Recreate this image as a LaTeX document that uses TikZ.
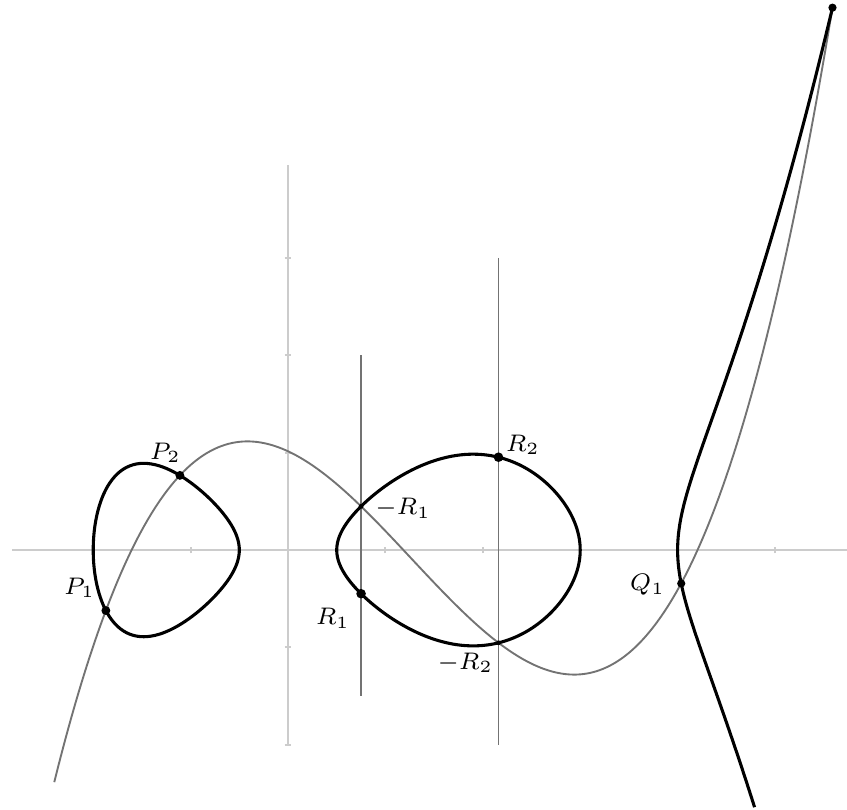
\documentclass[tikz,border=0pt]{standalone}
\usepackage{amsmath}
\usepackage{tikz}
\definecolor{axisgray}{gray}{0.80}
\definecolor{guidegray}{gray}{0.45}
\definecolor{chordgray}{gray}{0.45}

\begin{document}
\begin{tikzpicture}[
  font=\scriptsize,
  declare function={
    cub(\t)=0.126759*\t*\t*\t-0.479548*\t*\t-0.465562*\t+1.013836;
  },
  axis/.style={draw=axisgray,line width=0.6pt},
  guide/.style={draw=guidegray,line width=0.5pt},
  chord/.style={draw=chordgray,line width=0.55pt},
  curve/.style={draw=black,line width=0.9pt},
  bigdot/.style={fill=black},
  lbl/.style={inner sep=1pt}
]
  \useasboundingbox (-2.957,-2.669) rectangle (5.739,5.647);

  \coordinate (xmin) at (-2.83,0);
  \coordinate (xmax) at (5.74,0);
  \coordinate (ymin) at (0,-2);
  \coordinate (ymax) at (0,3.95);
  \draw[axis] (xmin) -- (xmax);
  \draw[axis] (ymin) -- (ymax);
  \draw[axis] (-2,-0.035) -- (-2,0.035) (-1,-0.035) -- (-1,0.035)
    (1,-0.035) -- (1,0.035) (2,-0.035) -- (2,0.035) (3,-0.035) -- (3,0.035)
    (4,-0.035) -- (4,0.035) (5,-0.035) -- (5,0.035)
    (-0.035,-2) -- (0.035,-2) (-0.035,-1) -- (0.035,-1) (-0.035,1) -- (0.035,1)
    (-0.035,2) -- (0.035,2) (-0.035,3) -- (0.035,3);

  \coordinate (P1) at (-1.87,-0.6214);
  \coordinate (P2) at (-1.11,0.7664);
  \coordinate (R1) at (0.75,-0.4484);
  \coordinate (mR1) at (0.75,0.4484);
  \coordinate (R2) at (2.161,0.9529);
  \coordinate (mR2) at (2.161,-0.9527);
  \coordinate (Q1) at (4.037,-0.343);
  \coordinate (Q2) at (5.59,5.5682);
  \coordinate (R1top) at (0.75,2);
  \coordinate (R1bot) at (0.75,-1.5);
  \coordinate (R2top) at (2.161,3);
  \coordinate (R2bot) at (2.161,-2);

  \draw[guide] (R1top) -- (R1bot);
  \draw[guide] (R2top) -- (R2bot);

  \draw[chord] plot[domain=-2.40:5.59,samples=220,smooth] (\x,{cub(\x)});

  \draw[curve] plot[domain=0:360,samples=121,smooth]
    ({-1.25-0.75*cos(\x)},{0.75*sin(\x)*sqrt(0.032*(1.75+0.75*cos(\x))*(4.25+0.75*cos(\x))*(5.25+0.75*cos(\x)))}) -- cycle;
  \draw[curve] plot[domain=0:360,samples=121,smooth]
    ({1.75-1.25*cos(\x)},{1.25*sin(\x)*sqrt(0.032*(3.75-1.25*cos(\x))*(2.25-1.25*cos(\x))*(2.25+1.25*cos(\x)))}) -- cycle;
  \draw[curve] plot[domain=-0.88882:1.26095,samples=120,smooth]
    ({4+\x*\x},{\x*sqrt(0.032*(6+\x*\x)*(4.5+\x*\x)*(3.5+\x*\x)*(1+\x*\x))});

  \fill[bigdot] (P1) circle (1.3pt);
  \fill[bigdot] (P2) circle (1.3pt);
  \fill[bigdot] (R1) circle (1.4pt);
  \fill[bigdot] (R2) circle (1.4pt);
  \fill[bigdot] (mR1) circle (0.7pt);
  \fill[bigdot] (mR2) circle (0.7pt);
  \fill[bigdot] (Q1) circle (1.2pt);
  \fill[bigdot] (Q2) circle (1.2pt);

  \node[lbl] (P1lbl) at (-2.14,-0.39) {$P_1$};
  \node[lbl] (P2lbl) at (-1.26,1.0) {$P_2$};
  \node[lbl] (R2lbl) at (2.41,1.08) {$R_2$};
  \node[lbl] (mR1lbl) at (1.18,0.43) {$-R_1$};
  \node[lbl] (R1lbl) at (0.46,-0.70) {$R_1$};
  \node[lbl] (mR2lbl) at (1.82,-1.16) {$-R_2$};
  \node[lbl] (Q1lbl) at (3.69,-0.36) {$Q_1$};
\end{tikzpicture}
\end{document}
